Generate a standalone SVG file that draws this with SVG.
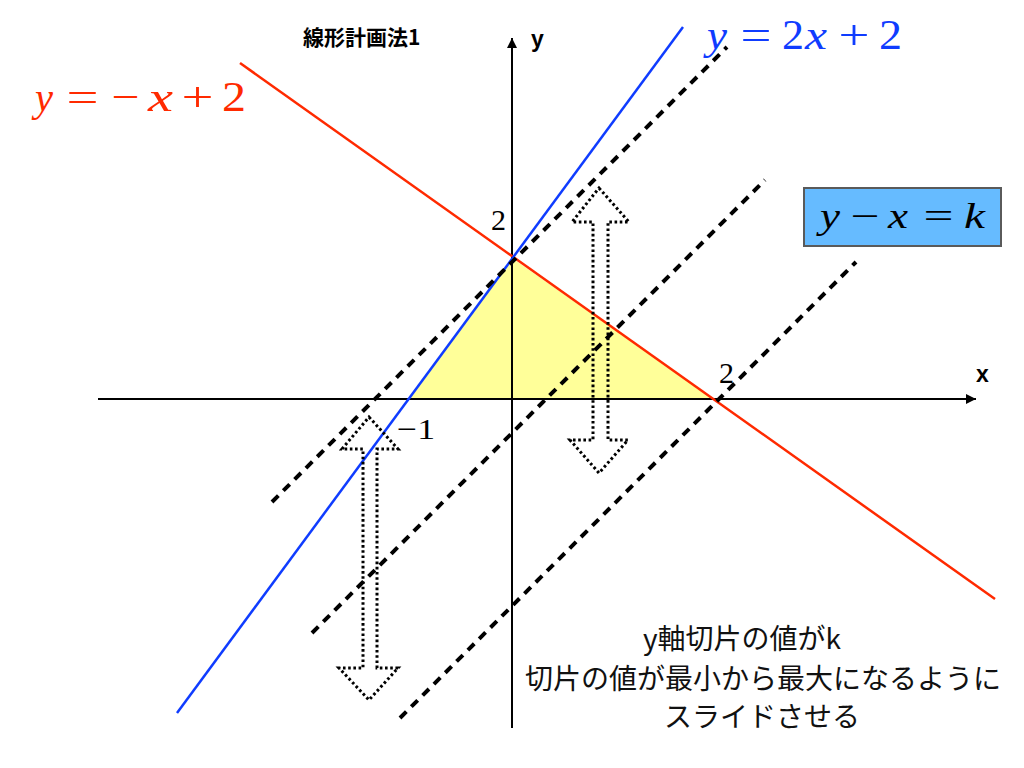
<svg xmlns="http://www.w3.org/2000/svg" width="1024" height="768" viewBox="0 0 1024 768">
<style>
.axis{stroke:#000;stroke-width:2;fill:none}
.dash{stroke:#000;stroke-width:4;stroke-dasharray:9 7;fill:none}
.dots{stroke:#000;stroke-width:3;stroke-dasharray:2.6 2.6;fill:none}
.math{font-family:'Liberation Serif',serif;font-size:42px}
.it{font-style:italic}
.num{font-family:'Liberation Serif',serif;font-size:30px;fill:#000}
.lbl{font-family:'Liberation Sans',sans-serif;font-size:23px;font-weight:bold;fill:#000}
.jp{font-family:'Noto Sans CJK JP',sans-serif;font-size:28px;fill:#111}
</style>
<defs>
<marker id="ah" viewBox="0 0 10 10" refX="10" refY="5" markerWidth="5" markerHeight="5" orient="auto" markerUnits="strokeWidth">
<path d="M0,0 L10,5 L0,10 Z" fill="#000"/>
</marker>
</defs>
<rect width="1024" height="768" fill="#fff"/>

<g id="feasible-region">
<polygon points="408,399 512,258 714,399" fill="#ffff99"/>
</g>

<g id="connectors">
<line id="x-axis" class="axis" x1="98" y1="399" x2="976" y2="399" marker-end="url(#ah)"/>
<line id="y-axis" class="axis" x1="512" y1="728" x2="512" y2="38" marker-end="url(#ah)"/>
<line id="red-line" x1="240" y1="63" x2="995" y2="599" stroke="#ff2a00" stroke-width="2.5"/>
<line id="blue-line" x1="177" y1="713" x2="683" y2="27" stroke="#0f3cff" stroke-width="2.5"/>
<line class="dash" x1="272" y1="502" x2="727" y2="47"/>
<line class="dash" x1="312" y1="633" x2="765" y2="180"/>
<line class="dash" x1="400" y1="718" x2="856" y2="262"/>
</g>

<g id="arrow-right">
<path class="dots" d="M599,188 L629,222 L608,222 L608,440 L628,440 L599,473 L570,440 L593,440 L593,222 L572,222 Z"/>
</g>
<g id="arrow-left">
<path class="dots" d="M369,417 L398,449 L377,449 L377,668 L398,668 L369,700 L339,668 L363,668 L363,449 L342,449 Z"/>
</g>

<g id="title">
<text x="303" y="45" font-family="'Noto Sans CJK JP', sans-serif" font-size="21" font-weight="bold" fill="#000">線形計画法1</text>
</g>

<g id="axis-labels">
<text class="lbl" x="531" y="47">y</text>
<text class="lbl" x="976" y="382">x</text>
<text class="num" x="491" y="230">2</text>
<text class="num" x="719" y="383">2</text>
<text class="num" x="397" y="439" textLength="38" lengthAdjust="spacingAndGlyphs">−1</text>
</g>

<g id="label-red" class="math" fill="#ff2a00">
<text class="it" x="35" y="111" textLength="18" lengthAdjust="spacingAndGlyphs">y</text>
<text x="66.5" y="111" textLength="32" lengthAdjust="spacingAndGlyphs">=</text>
<text x="111.5" y="111" textLength="28" lengthAdjust="spacingAndGlyphs">−</text>
<text class="it" x="148" y="111" textLength="25" lengthAdjust="spacingAndGlyphs">x</text>
<text x="181.5" y="111" textLength="32" lengthAdjust="spacingAndGlyphs">+</text>
<text x="222" y="111" textLength="24" lengthAdjust="spacingAndGlyphs">2</text>
</g>

<g id="label-blue" class="math" fill="#0f3cff">
<text class="it" x="707" y="49" textLength="20" lengthAdjust="spacingAndGlyphs">y</text>
<text x="740.5" y="49" textLength="31" lengthAdjust="spacingAndGlyphs">=</text>
<text x="782" y="49" textLength="22" lengthAdjust="spacingAndGlyphs">2</text>
<text class="it" x="805" y="49" textLength="22" lengthAdjust="spacingAndGlyphs">x</text>
<text x="838.5" y="49" textLength="31" lengthAdjust="spacingAndGlyphs">+</text>
<text x="879" y="49" textLength="23" lengthAdjust="spacingAndGlyphs">2</text>
</g>

<g id="objective-box">
<rect x="804" y="188" width="197" height="58" fill="#66bbff" stroke="#5a5a5a" stroke-width="2"/>
<g class="math" fill="#000">
<text class="it" x="820" y="228" font-size="35" textLength="20" lengthAdjust="spacingAndGlyphs">y</text>
<text x="850.5" y="228" font-size="35" textLength="29" lengthAdjust="spacingAndGlyphs">−</text>
<text class="it" x="888" y="228" font-size="35" textLength="20" lengthAdjust="spacingAndGlyphs">x</text>
<text x="923.5" y="228" font-size="35" textLength="30" lengthAdjust="spacingAndGlyphs">=</text>
<text class="it" x="964" y="228" font-size="35" textLength="21" lengthAdjust="spacingAndGlyphs">k</text>
</g>
</g>

<g id="explanation">
<text class="jp" x="643" y="649">y軸切片の値がk</text>
<text class="jp" x="763" y="689" text-anchor="middle">切片の値が最小から最大になるように</text>
<text class="jp" x="762" y="727" text-anchor="middle">スライドさせる</text>
</g>
</svg>
